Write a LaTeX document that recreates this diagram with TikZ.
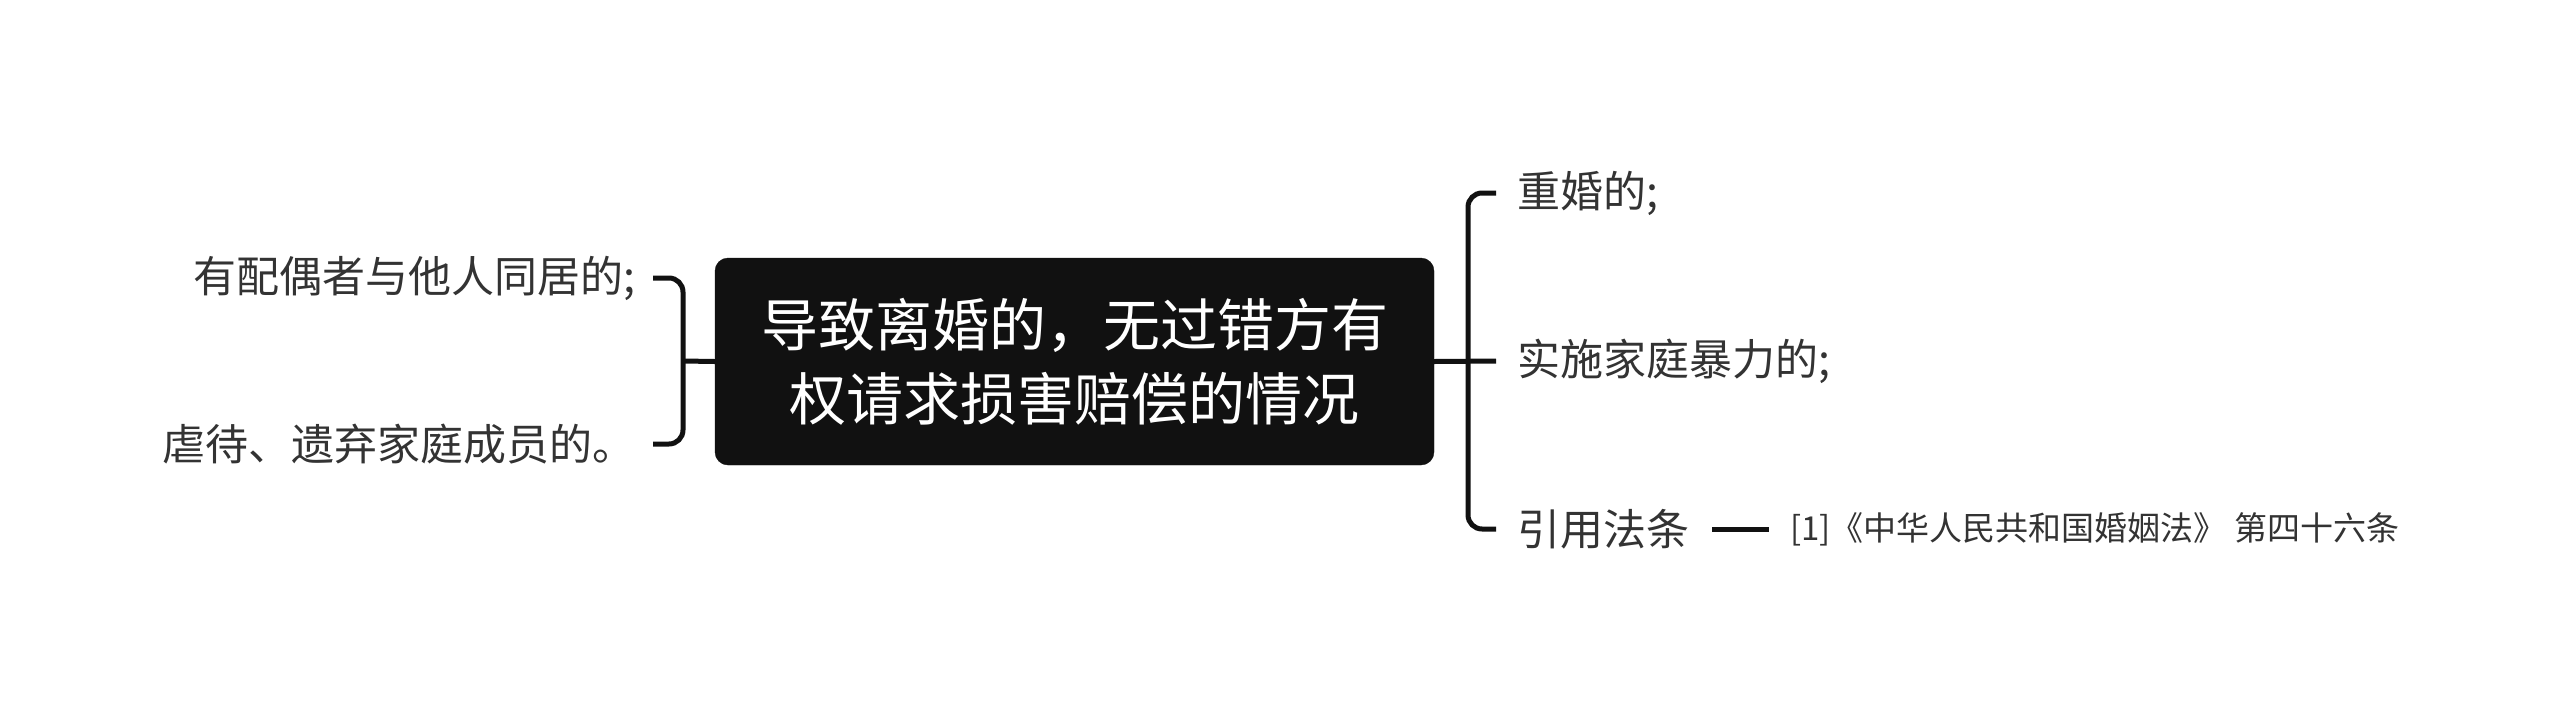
\documentclass[tikz,border=0pt]{standalone}
\usepackage{fontspec}
\setmainfont{Noto Sans CJK SC}
\usetikzlibrary{calc}
\definecolor{ink}{HTML}{111111}
\definecolor{txt}{HTML}{333333}
\tikzset{
  centralbox/.style={draw=ink, fill=ink, rounded corners=13pt, text=white,
    minimum width=719pt, minimum height=207pt, align=center, inner sep=0pt,
    font=\fontsize{57}{74}\selectfont},
  leaf/.style={text=txt, inner sep=0pt, font=\fontsize{43}{50}\selectfont},
  refleaf/.style={text=txt, inner sep=0pt, font=\fontsize{33}{38}\selectfont},
  conn/.style={draw=ink, line width=5pt},
}
\begin{document}
\begin{tikzpicture}[x=1pt,y=-1pt]
\useasboundingbox (0,0) rectangle (2560,724);
\node[centralbox] (c) at (1074.5,361.5) {导致离婚的，无过错方有\\权请求损害赔偿的情况};
% left
\node[leaf, anchor=east] (l1) at (636,278) {有配偶者与他人同居的;};
\node[leaf, anchor=east] (l2) at (636,444) {虐待、遗弃家庭成员的。};
\coordinate (lb) at (683,361);
\draw[conn] (c.west) -- (lb);
\draw[conn, rounded corners=14pt] ($(lb |- l1.east)+(-30,0)$) -| (lb) |- ($(lb |- l2.east)+(-30,0)$);
% right
\node[leaf, anchor=west] (r1) at (1517,193) {重婚的;};
\node[leaf, anchor=west] (r2) at (1517,361) {实施家庭暴力的;};
\node[leaf, anchor=west] (r3) at (1517,529) {引用法条};
\node[refleaf, anchor=west] (ref) at (1790,529) {[1]《中华人民共和国婚姻法》 第四十六条};
\coordinate (rb) at (1468,361);
\draw[conn] (c.east) -- ($(r2.west)+(-21,0)$);
\draw[conn, rounded corners=14pt] ($(rb |- r1.west)+(28,0)$) -| (rb) |- ($(rb |- r3.west)+(28,0)$);
\draw[conn] ($(r3.east)+(23,0)$) -- ($(ref.west)+(-21,0)$);
\end{tikzpicture}
\end{document}
